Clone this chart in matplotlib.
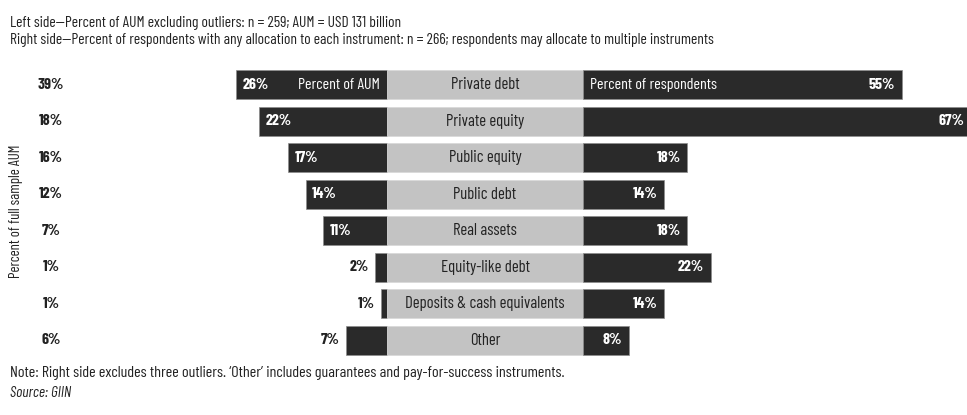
import matplotlib
matplotlib.use("Agg")
import matplotlib.pyplot as plt
from matplotlib import font_manager

categories = ["Private debt", "Private equity", "Public equity", "Public debt",
              "Real assets", "Equity-like debt", "Deposits & cash equivalents", "Other"]
aum_pct = [26, 22, 17, 14, 11, 2, 1, 7]          # left side: percent of AUM
resp_pct = [55, 67, 18, 14, 18, 22, 14, 8]       # right side: percent of respondents
full_sample_pct = [39, 18, 16, 12, 7, 1, 1, 6]   # percent of full sample AUM

# prefer a narrow sans face, fall back to DejaVu
names = {f.name for f in font_manager.fontManager.ttflist}
candidates = ["Barlow Condensed", "Roboto Condensed", "PT Sans Narrow",
              "Archivo Narrow", "Fira Sans Condensed", "Liberation Sans Narrow"]
FAM = [n for n in candidates if n in names][:1] + ["DejaVu Sans"]
plt.rcParams["font.family"] = FAM

DARK = "#2a2a2a"
GREY = "#c3c3c3"
EDGE = "#8c8c8c"
INK = "#222222"

W, H = 967, 415
fig = plt.figure(figsize=(W / 100, H / 100), dpi=100)
ax = fig.add_axes([0, 0, 1, 1])
ax.set_axis_off()

px_per_unit = 5.8
x0_px = 387.0                     # where the centre band starts
centre_w = 196.0 / px_per_unit    # width of the centre label band, in % units
ax.set_xlim(-x0_px / px_per_unit, (W - x0_px) / px_per_unit)
row0, pitch = 84.5, 36.57
ax.set_ylim((H - row0) / pitch, -row0 / pitch)

bh = 29 / pitch
rows = list(range(len(categories)))

ax.barh(rows, [-v for v in aum_pct], left=0, height=bh, color=DARK,
        edgecolor=EDGE, linewidth=0.5)
ax.barh(rows, [centre_w] * len(rows), left=0, height=bh, color=GREY,
        edgecolor="#d8d8d8", linewidth=0.5)
ax.barh(rows, resp_pct, left=centre_w, height=bh, color=DARK,
        edgecolor=EDGE, linewidth=0.5)

FS = 11.5
TFS = 11.2
num_kw = dict(fontsize=FS, fontweight="bold", va="center")
pad = 1.1
for i, (cat, a, r, f) in enumerate(zip(categories, aum_pct, resp_pct, full_sample_pct)):
    ax.text(centre_w / 2, i, cat, ha="center", va="center", fontsize=FS + 0.5, color=INK)
    if a >= 10:
        ax.text(-a + pad, i, f"{a}%", ha="left", color="white", **num_kw)
    else:
        ax.text(-a - pad, i, f"{a}%", ha="right", color=INK, **num_kw)
    ax.text(centre_w + r - 1.2, i, f"{r}%", ha="right", color="white", **num_kw)
    ax.text(-x0_px / px_per_unit + 51 / px_per_unit, i, f"{f}%", ha="center",
            color=INK, **num_kw)

ax.text(-1.2, 0, "Percent of AUM", ha="right", va="center", fontsize=FS, color="white")
ax.text(centre_w + 1.2, 0, "Percent of respondents", ha="left", va="center",
        fontsize=FS, color="white")

fig.text(16 / W, 1 - 211 / H, "Percent of full sample AUM", rotation=90,
         ha="center", va="center", fontsize=10.6, color=INK)

fig.text(10 / W, 1 - 23 / H,
         "Left side\u2014Percent of AUM excluding outliers: n = 259; AUM = USD 131 billion",
         ha="left", va="center", fontsize=TFS, color=INK)
fig.text(10 / W, 1 - 40 / H,
         "Right side\u2014Percent of respondents with any allocation to each instrument: "
         "n = 266; respondents may allocate to multiple instruments",
         ha="left", va="center", fontsize=TFS, color=INK)
fig.text(10 / W, 1 - 373 / H,
         "Note: Right side excludes three outliers. \u2018Other\u2019 includes guarantees "
         "and pay-for-success instruments.",
         ha="left", va="center", fontsize=11.6, color=INK)
fig.text(10 / W, 1 - 393 / H, "Source: GIIN", ha="left", va="center",
         fontsize=11, style="italic", color=INK)

fig.savefig("out.png", dpi=100)
